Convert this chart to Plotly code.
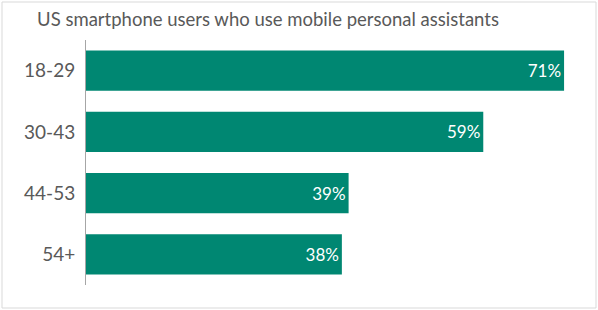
import plotly.graph_objects as go

categories = ["18-29", "30-43", "44-53", "54+"]
values = [71, 59, 39, 38]
labels = ["71%", "59%", "39%", "38%"]

fig = go.Figure(go.Bar(
    x=values, y=categories, orientation="h",
    marker=dict(color="#008772", line=dict(width=0)),
    width=0.655,
    text=labels, textposition="inside", insidetextanchor="end",
    textfont=dict(color="white", size=17, family="Lato"),
    cliponaxis=False,
))

fig.update_layout(
    width=598, height=310,
    margin=dict(l=86, r=7, t=40, b=25),
    paper_bgcolor="white", plot_bgcolor="white",
    showlegend=False,
    title=dict(text="US smartphone users who use mobile personal assistants",
               x=268/598, xanchor="center", xref="container", y=1-20/310, yanchor="middle",
               font=dict(size=18.5, color="#595959", family="Lato")),
    xaxis=dict(range=[0, 75], visible=False, fixedrange=True),
    yaxis=dict(autorange="reversed", showline=True, linecolor="#A6A6A6", linewidth=1,
               showgrid=False, zeroline=False, ticks="", ticklabelstandoff=6,
               tickfont=dict(size=19, color="#595959", family="Lato")),
    shapes=[dict(type="rect", xref="paper", yref="paper",
                 x0=-84/505, x1=1+5/505, y0=-23/245, y1=1+38/245,
                 line=dict(color="#D9D9D9", width=1), fillcolor="rgba(0,0,0,0)")],
)

fig.write_html("out.html")
